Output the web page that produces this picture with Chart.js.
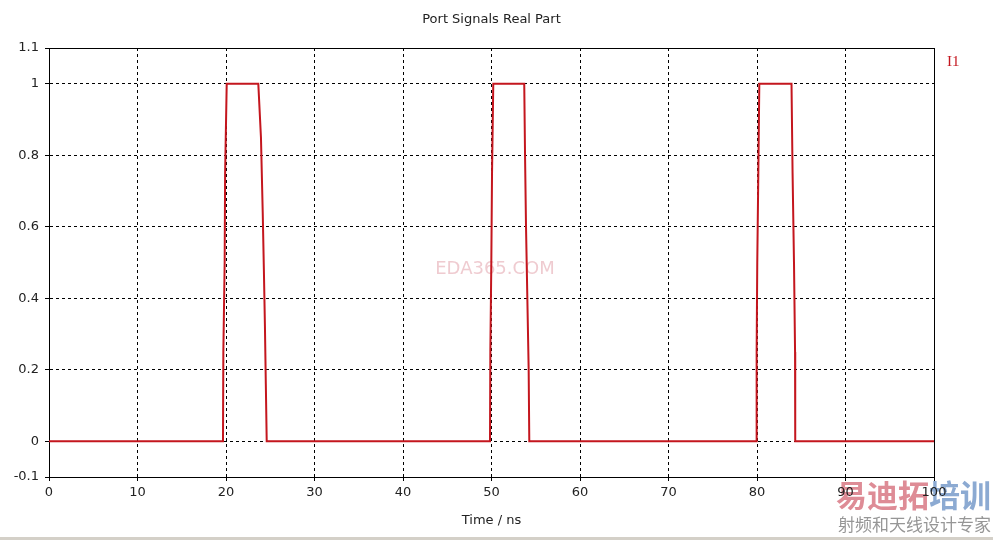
<!DOCTYPE html>
<html>
<head>
<meta charset="utf-8">
<script src="https://cdn.jsdelivr.net/npm/chart.js@4.4.1/dist/chart.umd.min.js"></script>
<style>
  html, body { margin: 0; padding: 0; background: #fff; }
  #wrap { width: 993px; height: 540px; }
</style>
</head>
<body>
<div id="wrap"><canvas id="chart" width="993" height="540"></canvas></div>
<script>
// time samples (ns) and the real part of port signal I1
const timeNs = [
  0, 19.66, 19.7, 19.85, 19.9, 20.08, 23.65, 23.95, 24.15, 24.28, 24.4, 24.5, 24.6,
  49.83, 49.87, 49.98, 50.06, 50.2, 53.7, 53.79, 53.9, 54.05, 54.2, 54.27,
  79.9, 79.96, 80.03, 80.15, 80.26, 83.9, 84.02, 84.18, 84.3, 84.32,
  100
];
const realPart = [
  0, 0, 0.25, 0.5, 0.75, 1, 1, 0.85, 0.64, 0.48, 0.32, 0.16, 0,
  0, 0.25, 0.5, 0.75, 1, 1, 0.8, 0.6, 0.4, 0.2, 0,
  0, 0.25, 0.5, 0.75, 1, 1, 0.75, 0.5, 0.25, 0,
  0
];
const yTicks = [-0.1, 0, 0.2, 0.4, 0.6, 0.8, 1, 1.1];
const seriesName = 'I1';
const chartTitle = 'Port Signals Real Part';
const lineColor = '#c4161e';

const points = timeNs.map((t, i) => ({ x: t, y: realPart[i] }));

// white background + watermarks, drawn underneath everything
const backdrop = {
  id: 'backdrop',
  beforeDraw(chart) {
    const ctx = chart.ctx;
    ctx.save();
    ctx.fillStyle = '#fff';
    ctx.fillRect(0, 0, chart.width, chart.height);

    ctx.textAlign = 'center';
    ctx.textBaseline = 'middle';
    ctx.fillStyle = 'rgba(225,160,170,0.55)';
    ctx.font = '18px "DejaVu Sans"';
    ctx.fillText('EDA365.COM', 495, 269);

    ctx.textAlign = 'left';
    ctx.font = 'bold 31px "Noto Sans CJK SC"';
    ctx.fillStyle = 'rgb(222,140,150)';
    ctx.fillText('易迪拓', 836, 495);
    ctx.fillStyle = 'rgb(140,170,210)';
    ctx.fillText('培训', 929, 495);
    ctx.font = '17px "Noto Sans CJK SC"';
    ctx.fillStyle = 'rgb(150,150,150)';
    ctx.fillText('射频和天线设计专家', 838, 525);

    ctx.fillStyle = '#d4d0c8';
    ctx.fillRect(0, 537, chart.width, 3);
    ctx.restore();
  }
};

// solid frame, title centred over the plot, series label at the right
const frame = {
  id: 'frame',
  beforeDatasetsDraw(chart) {
    const { ctx, chartArea: a } = chart;
    ctx.save();
    ctx.strokeStyle = '#000';
    ctx.lineWidth = 1;
    ctx.setLineDash([]);
    ctx.strokeRect(Math.round(a.left) + 0.5, Math.round(a.top) + 0.5,
      Math.round(a.right - a.left), Math.round(a.bottom - a.top));
    ctx.restore();
  },
  afterDraw(chart) {
    const { ctx, chartArea: a } = chart;
    ctx.save();
    ctx.textBaseline = 'middle';
    ctx.fillStyle = '#222';
    ctx.font = '13px "DejaVu Sans"';
    ctx.textAlign = 'center';
    ctx.fillText(chartTitle, (a.left + a.right) / 2, 20);

    ctx.textAlign = 'left';
    ctx.fillStyle = lineColor;
    ctx.font = '15px "Liberation Serif"';
    ctx.fillText(chart.data.datasets[0].label, 947, 62);
    ctx.restore();
  }
};

const tickFont = { family: 'DejaVu Sans', size: 13 };

new Chart(document.getElementById('chart').getContext('2d'), {
  type: 'line',
  data: {
    datasets: [{
      label: seriesName,
      data: points,
      borderColor: lineColor,
      borderWidth: 2,
      pointRadius: 0,
      tension: 0,
      fill: false
    }]
  },
  options: {
    responsive: false,
    animation: false,
    layout: { padding: { left: 0, right: 59, top: 48, bottom: 0 } },
    plugins: {
      legend: { display: false },
      tooltip: { enabled: false },
      title: { display: false }
    },
    scales: {
      x: {
        type: 'linear',
        min: 0,
        max: 100,
        afterFit(scale) { scale.height = 63; },
        ticks: { stepSize: 10, color: '#222', font: tickFont, padding: 4, maxRotation: 0 },
        grid: { color: '#000', tickLength: 4, tickBorderDash: [] },
        border: { color: '#000', width: 1, dash: [3, 3] },
        title: {
          display: true,
          text: 'Time / ns',
          color: '#222',
          font: tickFont,
          padding: { top: 4, bottom: 12 }
        }
      },
      y: {
        type: 'linear',
        min: -0.1,
        max: 1.1,
        afterFit(scale) { scale.width = 49; },
        afterBuildTicks(scale) { scale.ticks = yTicks.map(v => ({ value: v })); },
        ticks: {
          color: '#222',
          font: tickFont,
          padding: 6,
          callback: v => String(Math.round(v * 10) / 10)
        },
        grid: { color: '#000', tickLength: 4, tickBorderDash: [] },
        border: { color: '#000', width: 1, dash: [3, 3] }
      }
    }
  },
  plugins: [backdrop, frame]
});
</script>
</body>
</html>
